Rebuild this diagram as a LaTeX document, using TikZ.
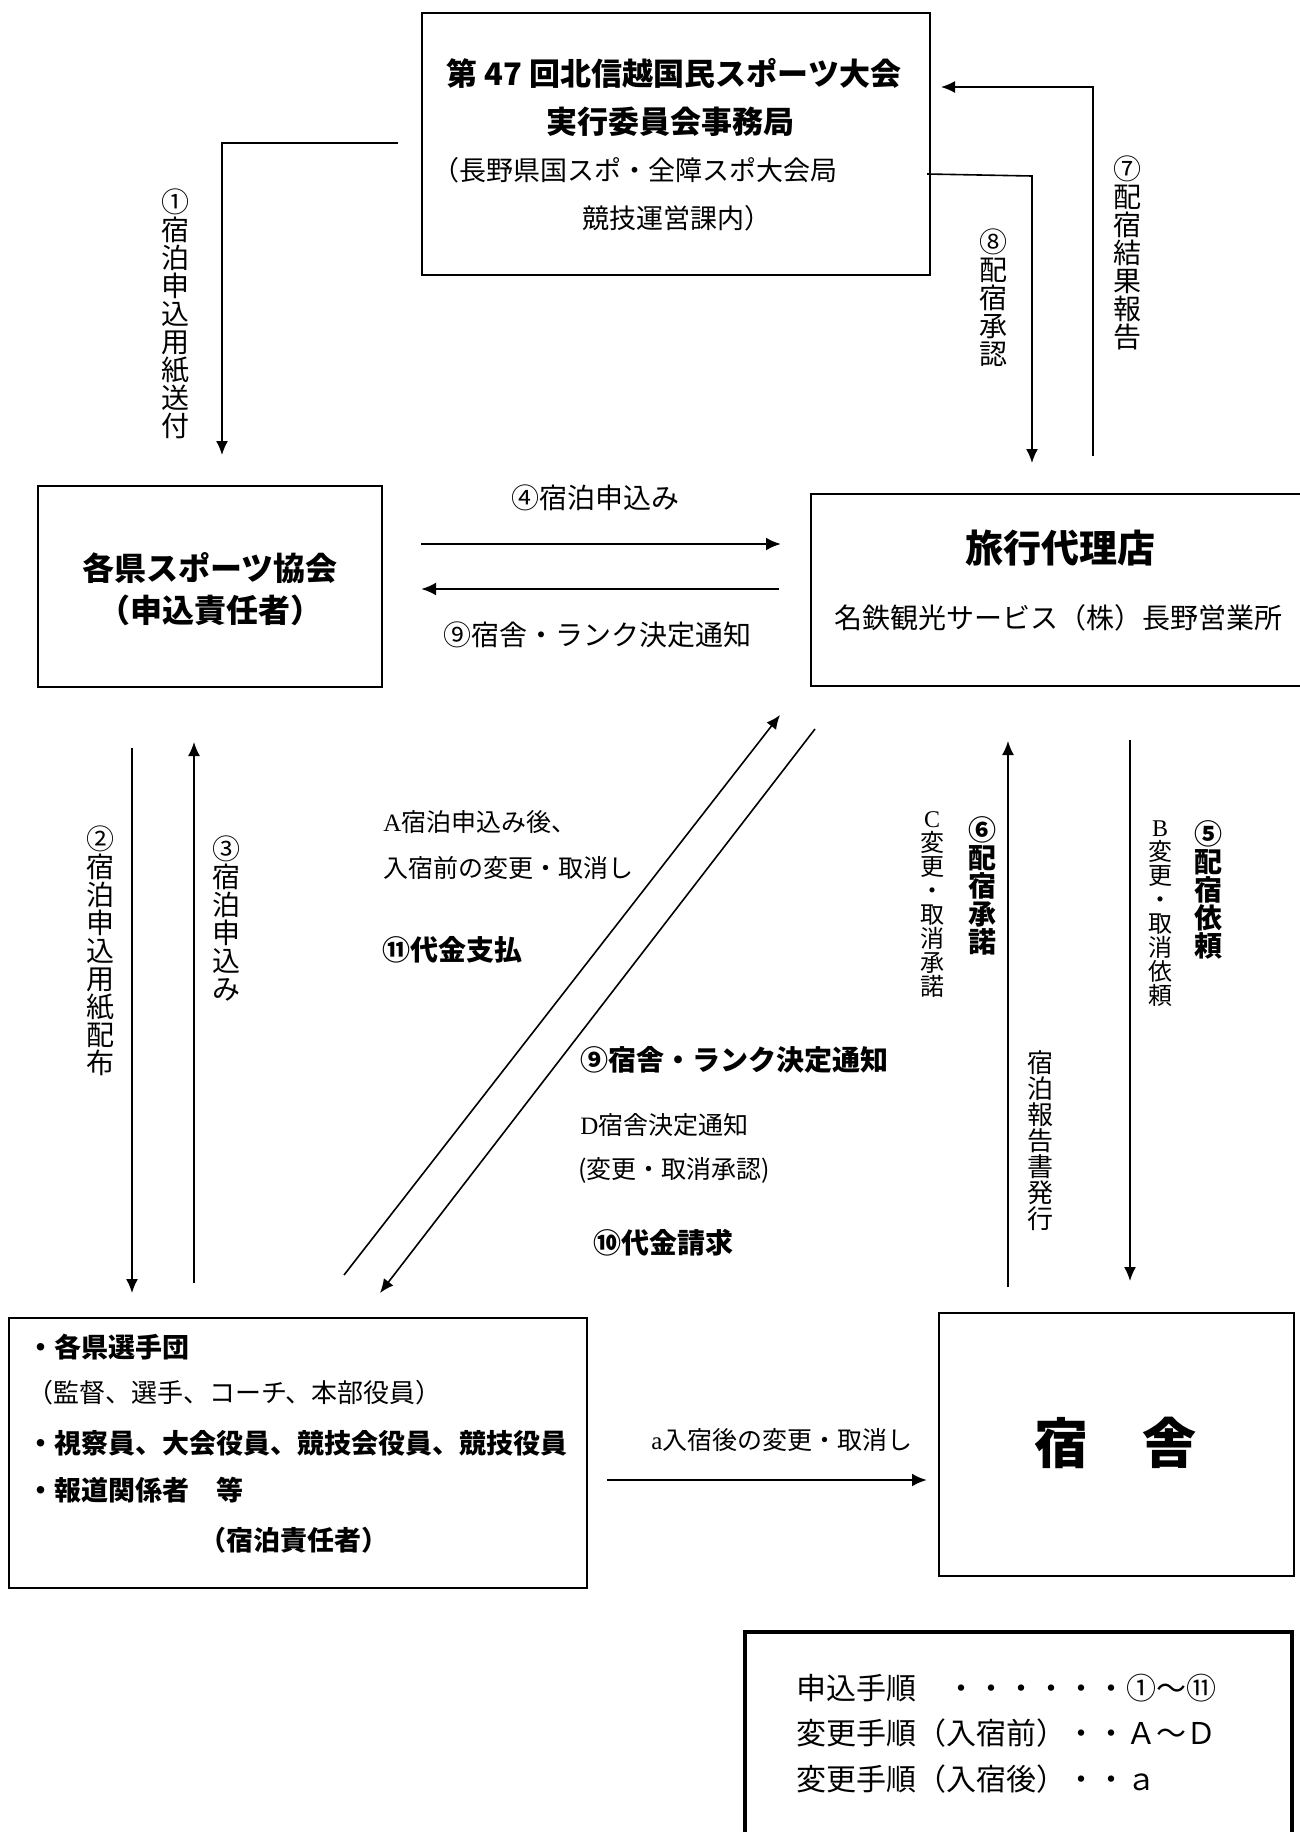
\documentclass[tikz,border=0pt]{standalone}
\usepackage{fontspec}
\setmainfont{Noto Sans CJK JP}
\newfontfamily\serifL{Liberation Serif}
\usetikzlibrary{arrows.meta}
\newcommand\myfs[1]{\fontsize{#1pt}{#1pt}\selectfont}
\begin{document}
\begin{tikzpicture}[x=0.5pt,y=-0.5pt,
  box/.style={draw,line width=1pt,inner sep=0pt},
  ln/.style={line width=0.8pt,-{Latex[length=7pt,width=6pt]}},
  lnb/.style={line width=1.3pt,-{Latex[length=7.5pt,width=6.5pt]}},
  tx/.style={inner sep=0pt,font=\myfs{14}},
  txs/.style={inner sep=0pt,font=\myfs{12.5}},
  txb/.style={inner sep=0pt,font=\myfs{14}\bfseries},
  vt/.style={inner sep=0pt,align=center,anchor=north,font=\myfs{14}},
  vtb/.style={inner sep=0pt,align=center,anchor=north,font=\myfs{14}\bfseries},
  vts/.style={inner sep=0pt,align=center,anchor=north,font=\myfs{12}},
]
\useasboundingbox (0,0) rectangle (1300,1832);
\clip (0,0) rectangle (1300,1832);
\fill[white] (0,0) rectangle (1300,1832);

% ---------- boxes ----------
\node[box,minimum width=254pt,minimum height=131pt] (org) at (676,144) {};
\node[box,minimum width=172pt,minimum height=100.5pt] (pref) at (210,586.5) {};
\node[box,minimum width=254.5pt,minimum height=96pt] (agency) at (1065.5,590) {};
\node[box,minimum width=289pt,minimum height=135pt] (team) at (298,1453) {};
\node[box,minimum width=177.5pt,minimum height=131.5pt] (inn) at (1116.5,1444.5) {};
\node[draw,line width=1.8pt,inner sep=0pt,minimum width=273.5pt,minimum height=109pt] (legend) at (1018.5,1741) {};

% ---------- box texts ----------
\node[inner sep=0pt,font=\myfs{15.5}\bfseries] (orgA) at (674,73) {第 47 回北信越国民スポーツ大会};
\node[inner sep=0pt,font=\myfs{15.5}\bfseries] (orgB) at (670,122) {実行委員会事務局};
\node[inner sep=0pt,font=\myfs{13.5},anchor=west] (orgC) at (432,170) {（長野県国スポ・全障スポ大会局};
\node[inner sep=0pt,font=\myfs{13.5}] (orgD) at (677,218) {競技運営課内）};

\node[inner sep=0pt,font=\myfs{16}\bfseries] (prefA) at (210,568) {各県スポーツ協会};
\node[inner sep=0pt,font=\myfs{16}\bfseries] (prefB) at (210,610) {（申込責任者）};

\node[inner sep=0pt,font=\myfs{19}\bfseries] (agA) at (1060,548) {旅行代理店};
\node[tx] (agB) at (1058,618) {名鉄観光サービス（株）長野営業所};

\node[inner sep=0pt,font=\myfs{13.5}\bfseries,anchor=west] (tmA) at (27,1347) {・各県選手団};
\node[inner sep=0pt,font=\myfs{13},anchor=west] (tmB) at (27,1393) {（監督、選手、コーチ、本部役員）};
\node[inner sep=0pt,font=\myfs{13.5}\bfseries,anchor=west] (tmC) at (27,1443) {・視察員、大会役員、競技会役員、競技役員};
\node[inner sep=0pt,font=\myfs{13.5}\bfseries,anchor=west] (tmD) at (27,1490) {・報道関係者　等};
\node[inner sep=0pt,font=\myfs{13.5}\bfseries] (tmE) at (294,1540) {（宿泊責任者）};

\node[inner sep=0pt,font=\myfs{27}\bfseries] (innT) at (1115,1443) {宿　舎};

\node[inner sep=0pt,font=\myfs{15},anchor=west] (lgA) at (796,1688) {申込手順　・・・・・・①～⑪};
\node[inner sep=0pt,font=\myfs{15},anchor=west] (lgB) at (796,1733) {変更手順（入宿前）・・Ａ～Ｄ};
\node[inner sep=0pt,font=\myfs{15},anchor=west] (lgC) at (796,1779) {変更手順（入宿後）・・ａ};

% ---------- connector end points ----------
\coordinate (c1a) at (398,143);  \coordinate (c1b) at (222,143);  \coordinate (c1c) at (222,455);
\coordinate (c8a) at (927,174);  \coordinate (c8b) at (1032,176); \coordinate (c8c) at (1032,463);
\coordinate (c7a) at (1093,456); \coordinate (c7b) at (1093,87);  \coordinate (c7c) at (941,87);
\coordinate (c4a) at (421,544);  \coordinate (c4b) at (781,544);
\coordinate (c9a) at (779,589);  \coordinate (c9b) at (421,589);
\coordinate (c2a) at (132,748);  \coordinate (c2b) at (132,1293);
\coordinate (c3a) at (194,1283); \coordinate (c3b) at (194,742);
\coordinate (d1a) at (344,1275); \coordinate (d1b) at (780,715);
\coordinate (d2a) at (815,729);  \coordinate (d2b) at (380,1293);
\coordinate (c6a) at (1008,1287);\coordinate (c6b) at (1008,741);
\coordinate (c5a) at (1130,740); \coordinate (c5b) at (1130,1281);
\coordinate (caa) at (607,1480); \coordinate (cab) at (927,1480);

% ---------- connectors ----------
\draw[ln] (c1a) -- (c1b) -- (c1c);
\draw[ln] (c8a) -- (c8b) -- (c8c);
\draw[ln] (c7a) -- (c7b) -- (c7c);
\draw[lnb] (c4a) -- (c4b);
\draw[lnb] (c9a) -- (c9b);
\draw[ln] (c2a) -- (c2b);
\draw[ln] (c3a) -- (c3b);
\draw[ln] (d1a) -- (d1b);
\draw[ln] (d2a) -- (d2b);
\draw[ln] (c6a) -- (c6b);
\draw[ln] (c5a) -- (c5b);
\draw[lnb] (caa) -- (cab);

% ---------- horizontal labels ----------
\node[tx] (l4) at (595,498) {④宿泊申込み};
\node[tx] (l9) at (597,635) {⑨宿舎・ランク決定通知};
\node[txs,anchor=west] (lA1) at (383,822) {{\serifL A}宿泊申込み後、};
\node[txs,anchor=west] (lA2) at (383,868) {入宿前の変更・取消し};
\node[txb,anchor=west] (l11) at (382,950) {⑪代金支払};
\node[txb,anchor=west] (l9b) at (580,1060) {⑨宿舎・ランク決定通知};
\node[txs,anchor=west] (lD1) at (580,1125) {{\serifL D}宿舎決定通知};
\node[txs,anchor=west] (lD2) at (578,1170) {(変更・取消承認)};
\node[txb,anchor=west] (l10) at (593,1243) {⑩代金請求};
\node[txs,anchor=west] (la) at (651,1440) {{\serifL a}入宿後の変更・取消し};

% ---------- vertical labels ----------
\node[vt] (v1) at (175,188) {①\\宿\\泊\\申\\込\\用\\紙\\送\\付};
\node[vt] (v8) at (993,228) {⑧\\配\\宿\\承\\認};
\node[vt] (v7) at (1127,155) {⑦\\配\\宿\\結\\果\\報\\告};
\node[vt] (v2) at (100,825) {②\\宿\\泊\\申\\込\\用\\紙\\配\\布};
\node[vt] (v3) at (226,835) {③\\宿\\泊\\申\\込\\み};
\node[vtb] (v6) at (982,816) {⑥\\配\\宿\\承\\諾};
\node[vts] (vC) at (932,811) {{\serifL C}\\変\\更\\・\\取\\消\\承\\諾};
\node[vtb] (v5) at (1208,820) {⑤\\配\\宿\\依\\頼};
\node[vts] (vB) at (1160,820) {{\serifL B}\\変\\更\\・\\取\\消\\依\\頼};
\node[vt,font=\myfs{13}] (vR) at (1040,1050) {宿\\泊\\報\\告\\書\\発\\行};
\end{tikzpicture}
\end{document}
